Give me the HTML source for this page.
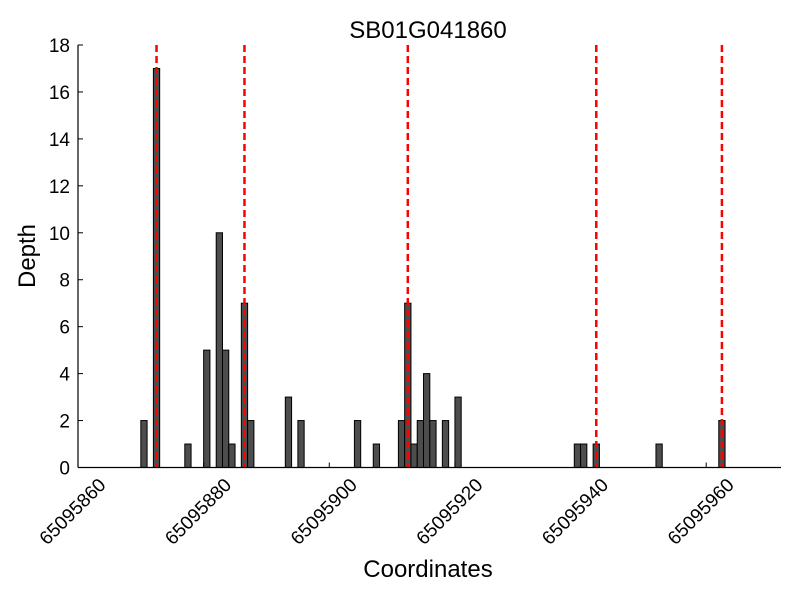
<!DOCTYPE html>
<html><head><meta charset="utf-8"><style>
html,body{margin:0;padding:0;background:#fff;}
svg text{font-family:"Liberation Sans",sans-serif;}
</style></head><body>
<svg id="chart" width="800" height="600" xmlns="http://www.w3.org/2000/svg">
<text x="428" y="38" font-size="24" text-anchor="middle">SB01G041860</text>
<text transform="translate(35,256) rotate(-90)" font-size="24" text-anchor="middle">Depth</text>
<text x="428" y="577" font-size="24" text-anchor="middle">Coordinates</text>
<g id="plot"></g>
</svg>
<script>
const positions = [65095870,65095872,65095877,65095880,65095882,65095883,65095884,65095886,65095887,65095893,65095895,65095904,65095907,65095911,65095912,65095913,65095914,65095915,65095916,65095918,65095920,65095939,65095940,65095942,65095952,65095962];
const depths = [2,17,1,5,10,5,1,7,2,3,2,2,1,2,7,1,2,4,2,2,3,1,1,1,1,2];
const markers = [65095872.5,65095886.5,65095912.5,65095942.5,65095962.5];
const xTicks = [65095860,65095880,65095900,65095920,65095940,65095960];
const yTicks = [0,2,4,6,8,10,12,14,16,18];

const X0=78, X1=781.6, XMIN=65095860, XMAX=65095972;
const Y0=467.5, Y1=45, YMIN=0, YMAX=18;
function xs(v){return X0+(v-XMIN)*(X1-X0)/(XMAX-XMIN);}
function ys(v){return Y0-(v-YMIN)*(Y0-Y1)/(YMAX-YMIN);}
const NS="http://www.w3.org/2000/svg";
const g=document.getElementById('plot');
function mk(t,a){const e=document.createElementNS(NS,t);for(const k in a)e.setAttribute(k,a[k]);g.appendChild(e);return e;}

positions.forEach((p,i)=>{
  const b=mk('rect',{x:xs(p),y:ys(depths[i]),width:xs(p+1)-xs(p),height:ys(0)-ys(depths[i]),fill:'#4d4d4d',stroke:'#000','stroke-width':1});
  
  
});
markers.forEach(m=>{
  const l=mk('line',{x1:xs(m),x2:xs(m),y1:ys(18),y2:ys(0),stroke:'#ff0000','stroke-width':2.5,'stroke-dasharray':'7,4'});
  
  
});
const ya=mk('line',{x1:X0,x2:X0,y1:Y1,y2:Y0,stroke:'#000','stroke-width':1.2});


const xa=mk('line',{x1:X0,x2:781,y1:Y0,y2:Y0,stroke:'#000','stroke-width':1.2});


yTicks.forEach(t=>{
  mk('line',{x1:X0,x2:X0+5,y1:ys(t),y2:ys(t),stroke:'#000','stroke-width':1});
  const tx=mk('text',{x:X0-8,y:ys(t)+7,'font-size':19,'text-anchor':'end'});
  tx.textContent=t;
  
  
});
xTicks.forEach(t=>{
  mk('line',{x1:xs(t),x2:xs(t),y1:Y0,y2:Y0-5,stroke:'#000','stroke-width':1});
  const tx=mk('text',{x:0,y:0,'font-size':19,'text-anchor':'middle',transform:`translate(${xs(t)-1},${516}) rotate(-45)`});
  tx.textContent=t;
  
  
});
</script>
</body></html>
